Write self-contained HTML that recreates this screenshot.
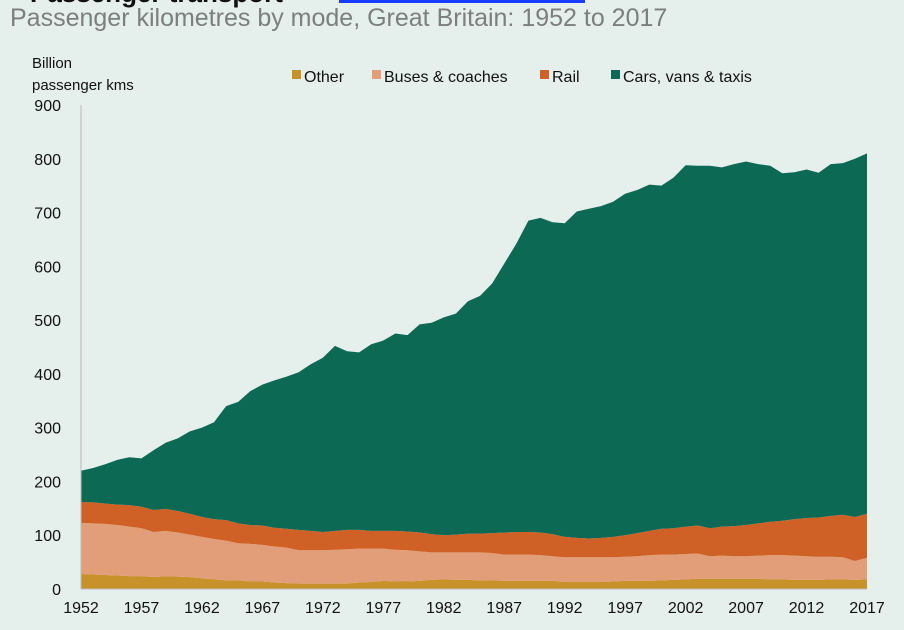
<!DOCTYPE html>
<html><head><meta charset="utf-8"><style>
body{margin:0;background:#e5efeb;font-family:"Liberation Sans",Arial,sans-serif;}
#wrap{position:relative;width:904px;height:630px;overflow:hidden;background:#e5efeb;}
</style></head><body>
<div id="wrap">
<div style="position:absolute;left:30px;top:-22px;font-size:26px;font-weight:bold;color:#111;">Passenger transport</div>
<div style="position:absolute;left:339px;top:0;width:246px;height:3px;background:#1a3cff;"></div>
<div style="position:absolute;left:10px;top:4px;font-size:25px;color:#7b7f7d;white-space:nowrap;">Passenger kilometres by mode, Great Britain: 1952 to 2017</div>
<svg id="chart" width="904" height="630" style="position:absolute;left:0;top:0"></svg>
</div>
<script>
const years=[];for(let y=1952;y<=2017;y++)years.push(y);
const seriesNames=["Other","Buses & coaches","Rail","Cars, vans & taxis"];
const other=[28,27,26,25,24,24,22,24,23,22,20,18,16,16,14,14,12,11,10,10,10,10,10,12,13,15,14,14,15,17,18,17,17,16,16,15,15,15,15,15,13,13,13,13,14,15,15,15,16,17,18,19,19,19,19,19,19,18,18,17,17,17,18,18,17,18];
const buses=[95,95,95,94,92,89,84,84,82,79,77,75,74,69,70,68,67,66,62,62,62,63,64,63,62,60,59,58,55,51,50,51,51,52,51,49,49,49,48,46,46,46,46,46,45,45,46,48,48,47,47,47,42,43,42,42,43,45,45,45,44,43,42,41,35,40];
const rail=[39,39,38,38,40,40,41,41,40,39,37,37,38,37,35,36,35,35,38,36,34,35,36,35,33,33,35,35,35,34,32,33,35,35,37,41,42,42,42,41,38,36,35,36,38,40,43,45,48,49,51,52,52,54,56,58,60,62,64,68,71,73,76,79,82,82];
const cars=[58,64,73,83,89,90,111,123,135,153,166,180,212,226,249,262,274,283,293,310,324,344,332,330,347,354,367,365,387,393,405,411,432,442,464,500,536,579,585,580,583,607,613,617,623,635,638,644,638,652,672,669,674,668,673,676,668,662,646,645,648,641,654,654,666,670];
const yTicks=[0,100,200,300,400,500,600,700,800,900];
const xTickYears=[1952,1957,1962,1967,1972,1977,1982,1987,1992,1997,2002,2007,2012,2017];
const colors=["#c8922a","#e29e78","#d06126","#0c6953"];
const NS="http://www.w3.org/2000/svg";
const svg=document.getElementById('chart');
const x0=81,x1=867,yb=589,yt=105;
const xs=y=>x0+(y-1952)*(x1-x0)/65;
const ys=v=>yb-v*(yb-yt)/900;
function mk(tag,attrs){const e=document.createElementNS(NS,tag);for(const k in attrs)e.setAttribute(k,attrs[k]);svg.appendChild(e);return e;}
const data=[other,buses,rail,cars];
let base=years.map(()=>0);
data.forEach((s,i)=>{
  const top=base.map((b,j)=>b+s[j]);
  let d="M"+years.map((y,j)=>xs(y)+","+ys(top[j])).join(" L");
  for(let j=years.length-1;j>=0;j--)d+=" L"+xs(years[j])+","+ys(base[j]);
  d+=" Z";
  const p=mk('path',{d:d,fill:colors[i]});
  
  
  base=top;
});
const ax=mk('line',{x1:x0,y1:yt,x2:x0,y2:yb,stroke:'#bbbbbb','stroke-width':1});


const bx=mk('line',{x1:x0,y1:yb,x2:x1,y2:yb,stroke:'#bbbbbb','stroke-width':1});


yTicks.forEach(v=>{
  const t=mk('text',{x:61,y:ys(v)+6,'text-anchor':'end','font-size':16,fill:'#111'});
  t.textContent=v;
  
  
});
xTickYears.forEach(y=>{
  const t=mk('text',{x:xs(y),y:613,'text-anchor':'middle','font-size':16,fill:'#111'});
  t.textContent=y;
  
  
});
const yt1=mk('text',{x:32,y:68,'font-size':15,fill:'#111'});
yt1.textContent="Billion";


const yt2=mk('text',{x:32,y:90,'font-size':15,fill:'#111'});
yt2.textContent="passenger kms";


const legX=[292,372,540,611];
seriesNames.forEach((n,i)=>{
  const r=mk('rect',{x:legX[i],y:70,width:9,height:9,fill:colors[i]});
  
  
  const t=mk('text',{x:legX[i]+12,y:82,'font-size':16,fill:'#111'});
  t.textContent=n;
  
  
});
</script>
</body></html>
